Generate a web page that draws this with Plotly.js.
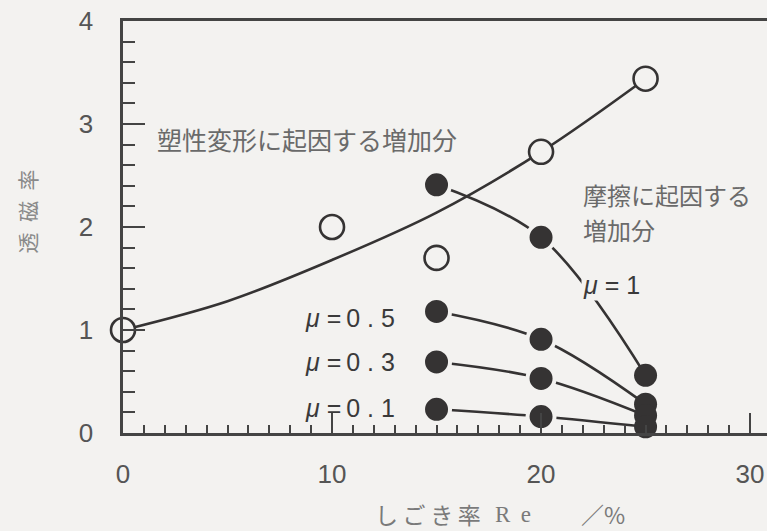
<!DOCTYPE html>
<html>
<head>
<meta charset="utf-8">
<script src="https://cdn.plot.ly/plotly-3.0.1.min.js"></script>
<style>html,body{margin:0;padding:0;background:#f3f2f0;}</style>
</head>
<body>
<div id="chart" style="width:767px;height:531px;"></div>
<script>
// Reduction ratio Re (%)
const strainOpen = [0, 10, 15, 20, 25];
const permOpen = [1.0, 2.0, 1.70, 2.73, 3.44];           // open circles (measured)
const fitX = [0, 5, 10, 15, 20, 25];
const fitY = [1.0, 1.28, 1.68, 2.14, 2.73, 3.44];         // curve: increase from plastic deformation
const strainMu = [15, 20, 25];
const permMu1 = [2.41, 1.90, 0.56];
const permMu05 = [1.18, 0.91, 0.28];
const permMu03 = [0.69, 0.53, 0.17];
const permMu01 = [0.23, 0.16, 0.06];
const xTicks = [0, 10, 20, 30];

const BG = '#f3f2f0';
const INK = '#353333';
const LW = 2.6;
// gap ring around separated dots; none in the merged stack at Re = 25
const dotSizes = [27, 27, 23];
const ringWidths = [4, 4, 0];

function muTrace(y, name) {
  return {x: strainMu, y: y, name: name, type: 'scatter', mode: 'lines+markers',
    line: {color: INK, width: LW, shape: 'spline', smoothing: 1},
    marker: {symbol: 'circle', size: dotSizes, color: INK, opacity: 1,
             line: {color: BG, width: ringWidths}},
    cliponaxis: false};
}

const data = [
  {x: fitX, y: fitY, type: 'scatter', mode: 'lines', name: 'fit',
   line: {color: INK, width: LW, shape: 'spline', smoothing: 1}, cliponaxis: false},
  {x: strainOpen, y: permOpen, type: 'scatter', mode: 'markers', name: 'open',
   marker: {symbol: 'circle', size: 24, color: BG, opacity: 1, line: {color: INK, width: 2.6}}, cliponaxis: false},
  muTrace(permMu1, 'μ=1'),
  muTrace(permMu05, 'μ=0.5'),
  muTrace(permMu03, 'μ=0.3'),
  muTrace(permMu01, 'μ=0.1')
];

const cjk = 'Noto Sans CJK JP';
const lblFont = {family: 'Liberation Sans, Arial', size: 25, color: '#3a3a3a'};
function muLabel(text, y) {
  return {x: 13.1, y: y, xref: 'x', yref: 'y', text: text, showarrow: false,
    xanchor: 'right', yanchor: 'middle', font: lblFont};
}
function bottomText(text, xPaper, family) {
  return {x: xPaper, y: -0.197, xref: 'paper', yref: 'paper', text: text, showarrow: false,
    xanchor: 'center', yanchor: 'middle', borderpad: 0,
    font: {family: family, size: 23, color: '#7a7a7a'}};
}

const layout = {
  width: 767, height: 531,
  margin: {l: 123, r: 0, t: 21, b: 98, pad: 0},
  paper_bgcolor: BG, plot_bgcolor: BG,
  showlegend: false,
  xaxis: {
    range: [0, 30.81], tickvals: xTicks, ticktext: xTicks.map(String),
    ticks: 'inside', ticklen: 20, tickwidth: 2, tickcolor: '#444',
    minor: {dtick: 1, tick0: 0, ticks: 'inside', ticklen: 8, tickwidth: 2, tickcolor: '#444'},
    showline: true, linewidth: 2.6, linecolor: '#444', mirror: true,
    showgrid: false, zeroline: false,
    ticklabelstandoff: 16,
    tickfont: {family: 'Liberation Sans, Arial', size: 26, color: '#555'},
    title: {text: ''}
  },
  yaxis: {
    range: [0, 4], dtick: 1, tick0: 0,
    ticks: 'inside', ticklen: 22, tickwidth: 2, tickcolor: '#444',
    minor: {dtick: 0.2, tick0: 0, ticks: 'inside', ticklen: 12, tickwidth: 2, tickcolor: '#444'},
    showline: true, linewidth: 2.6, linecolor: '#444',
    showgrid: false, zeroline: false,
    ticklabelstandoff: 22,
    tickfont: {family: 'Liberation Sans, Arial', size: 26, color: '#555'},
    title: {text: ''}
  },
  annotations: [
    {x: 1.53, y: 2.85, xref: 'x', yref: 'y', text: '塑性変形に起因する増加分', showarrow: false,
     xanchor: 'left', yanchor: 'middle', font: {family: cjk, size: 25, color: '#6a6a6a'}},
    {x: 21.96, y: 2.3155, xref: 'x', yref: 'y', text: '摩擦に起因する', showarrow: false, borderpad: 0,
     xanchor: 'left', yanchor: 'middle', font: {family: cjk, size: 24, color: '#6a6a6a'}},
    {x: 21.96, y: 1.9757, xref: 'x', yref: 'y', text: '増加分', showarrow: false, borderpad: 0,
     xanchor: 'left', yanchor: 'middle', font: {family: cjk, size: 24, color: '#6a6a6a'}},
    {x: 21.9, y: 1.44, xref: 'x', yref: 'y', text: '<i>μ</i> = 1', showarrow: false,
     xanchor: 'left', yanchor: 'middle', bgcolor: BG, font: lblFont},
    muLabel('<i>μ</i> =\u20090 . 5', 1.12),
    muLabel('<i>μ</i> =\u20090 . 3', 0.69),
    muLabel('<i>μ</i> =\u20090 . 1', 0.24),
    {x: -0.149, y: 2.15, xref: 'paper', yref: 'y', text: '透\u2002磁\u2002率', showarrow: false,
     textangle: -90, xanchor: 'center', yanchor: 'middle',
     font: {family: cjk, size: 21, color: '#8a8a8a'}},
    bottomText('し\u2009ご\u2009き\u2009率', 0.4736, cjk),
    bottomText('R\u2009 e', 0.6056, 'Liberation Serif'),
    bottomText('／%', 0.745, cjk)
  ]
};

Plotly.newPlot('chart', data, layout, {staticPlot: true, displayModeBar: false});
</script>
</body>
</html>
